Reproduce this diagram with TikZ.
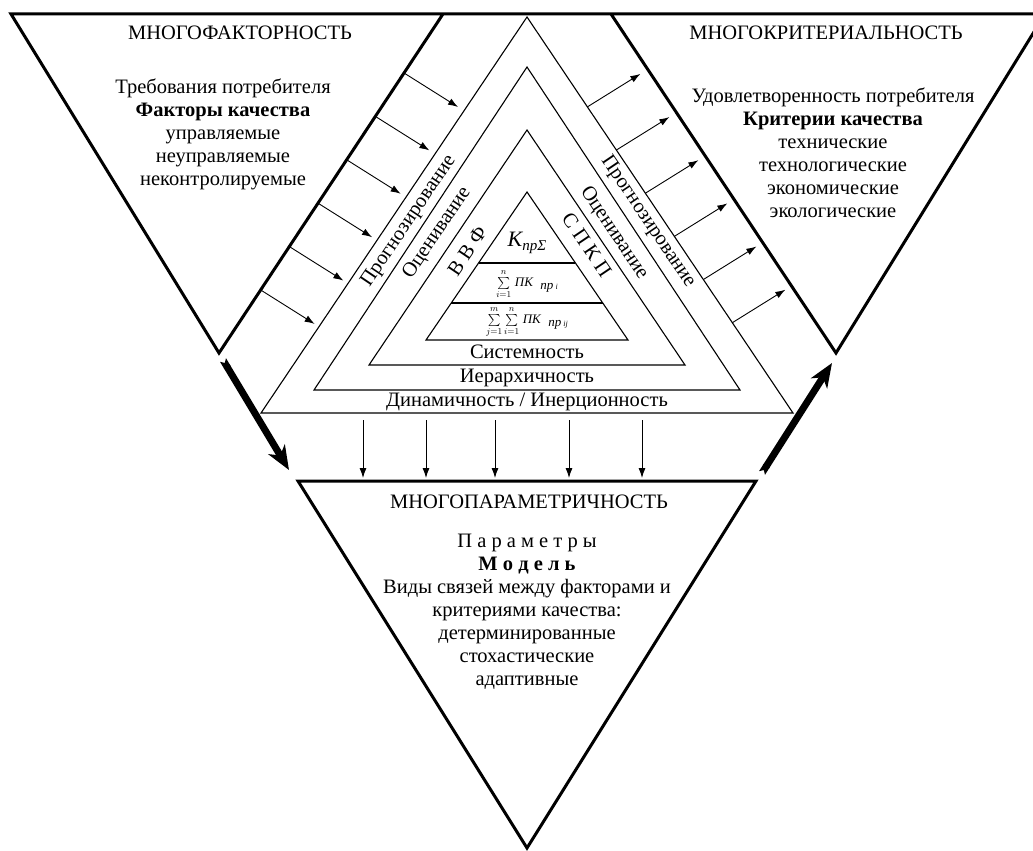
\documentclass[tikz,border=0pt]{standalone}
\usepackage{fontspec}
\setmainfont{Liberation Serif}
\usepackage{amsmath}
\usetikzlibrary{arrows.meta, calc}
\tikzset{
  big_tri/.style = {draw=black, line width=3pt, line join=miter},
  lvl_tri/.style = {draw=black, line width=1.1pt},
  lbl/.style = {align=center, inner sep=0pt, font=\fontsize{20.5}{23}\selectfont},
  band/.style = {inner sep=0pt, font=\fontsize{20.5}{23}\selectfont},
  thin_arr/.style = {->, line width=0.9pt},
  fat_arr/.style = {line width=7pt, {Triangle Cap[reversed]}-{Stealth[length=24pt,width=19pt,inset=7pt]}}
}
\begin{document}
\begin{tikzpicture}[x=1pt, y=-1pt, >={Latex[length=10pt,width=7pt]}]
\useasboundingbox (0,0) rectangle (1033,851);
\clip (0,0) rectangle (1033,851);
\coordinate (L1) at (11,14);
\coordinate (L2) at (443,14);
\coordinate (L3) at (219,353);
\coordinate (R1) at (611,14);
\coordinate (R2) at (1045,14);
\coordinate (R3) at (836,353);
\coordinate (B1) at (298,481);
\coordinate (B2) at (756,481);
\coordinate (B3) at (527,848);
\coordinate (T1a) at (527,17);
\coordinate (T1l) at (261,413);
\coordinate (T1r) at (793,413);
\coordinate (T2a) at (527,67);
\coordinate (T2l) at (314,390);
\coordinate (T2r) at (740,390);
\coordinate (T3a) at (527,130);
\coordinate (T3l) at (369,365);
\coordinate (T3r) at (685,365);
\coordinate (T4a) at (527,192);
\coordinate (T4l) at (426,340);
\coordinate (T4r) at (628,340);

\draw[big_tri] (L2) -- (L3) -- (L1) -- (R2) -- (R3) -- (R1);
\draw[big_tri] (B1) -- (B2) -- (B3) -- cycle;
\draw[lvl_tri] (T1l) -- (T1a) -- (T1r) -- cycle;
\draw[lvl_tri] (T2l) -- (T2a) -- (T2r) -- cycle;
\draw[lvl_tri] (T3l) -- (T3a) -- (T3r) -- cycle;
\draw[lvl_tri] (T4l) -- (T4a) -- (T4r) -- cycle;
\coordinate (d1l) at ($(T4a)!0.48!(T4l)$);
\coordinate (d1r) at ($(T4a)!0.48!(T4r)$);
\coordinate (d2l) at ($(T4a)!0.75!(T4l)$);
\coordinate (d2r) at ($(T4a)!0.75!(T4r)$);
\draw[lvl_tri] (d1l) -- (d1r);
\draw[lvl_tri] (d2l) -- (d2r);

\node[font=\fontsize{22}{24}\selectfont\itshape] (k_sum) at (527,243) {K\raisebox{-0.35ex}{\fontsize{15}{15}\selectfont прΣ}};
\node[font=\fontsize{13}{15}\selectfont] (pk_i) at (527,284) {$\sum\limits_{i=1}^{n}$\;\textit{ПК}\; \raisebox{-0.5ex}{\textit{пр}\,\footnotesize\textit{i}}};
\node[font=\fontsize{13}{15}\selectfont] (pk_ij) at (527,322) {$\sum\limits_{j=1}^{m}\sum\limits_{i=1}^{n}$\;\textit{ПК}\; \raisebox{-0.5ex}{\textit{пр}\,\footnotesize\textit{ij}}};

\node[band, rotate=56] (prog_l) at (409,221) {Прогнозирование};
\node[band, rotate=56] (ocen_l) at (437,233) {Оценивание};
\node[band, rotate=56] (vvf) at (467,251) {В В Ф};
\node[band, rotate=-56] (prog_r) at (648,222) {Прогнозирование};
\node[band, rotate=-56] (ocen_r) at (614,233) {Оценивание};
\node[band, rotate=-56] (spkp) at (587,245) {С П К П};
\node[band] (sist) at (527,352) {Системность};
\node[band] (ier) at (527,378) {Иерархичность};
\node[band] (dyn) at (527,402) {Динамичность / Инерционность};

\node[lbl] (f_title) at (240,33) {МНОГОФАКТОРНОСТЬ};
\node[lbl, anchor=north] (f_text) at (223,79) {Требования потребителя\\ \textbf{Факторы качества}\\ управляемые\\ неуправляемые\\ неконтролируемые};
\node[lbl] (k_title) at (826,33) {МНОГОКРИТЕРИАЛЬНОСТЬ};
\node[lbl, anchor=north] (k_text) at (833,88) {Удовлетворенность потребителя\\ \textbf{Критерии качества}\\ технические\\ технологические\\ экономические\\ экологические};
\node[lbl] (p_title) at (529,502) {МНОГОПАРАМЕТРИЧНОСТЬ};
\node[lbl, anchor=north] (p_text) at (527,534) {П а р а м е т р ы\\ \textbf{М о д е л ь}\\ Виды связей между факторами и\\ критериями качества:\\ детерминированные\\ стохастические\\ адаптивные};

\foreach \i in {0,...,5} {
  \coordinate (lt\i) at ($(L2)!{0.174+0.128*\i}!(L3)$);
  \coordinate (lh\i) at ($(lt\i)+(54,34)$);
  \draw[thin_arr] (lt\i) -- (lh\i);
  \coordinate (rt\i) at ($(T1a)!{0.227+0.109*\i}!(T1r)$);
  \coordinate (rh\i) at ($(rt\i)+(53,-33)$);
  \draw[thin_arr] (rt\i) -- (rh\i);
}
\foreach \x [count=\i] in {363,426,495,569,642} {
  \coordinate (vt\i) at (\x,420);
  \coordinate (vh\i) at (\x,478);
  \draw[thin_arr] (vt\i) -- (vh\i);
}
\coordinate (fa1) at (223,360);
\coordinate (fa2) at (289,470);
\coordinate (fb1) at (762,473);
\coordinate (fb2) at (832,363);
\draw[fat_arr] (fa1) -- (fa2);
\draw[fat_arr] (fb1) -- (fb2);
\end{tikzpicture}
\end{document}
